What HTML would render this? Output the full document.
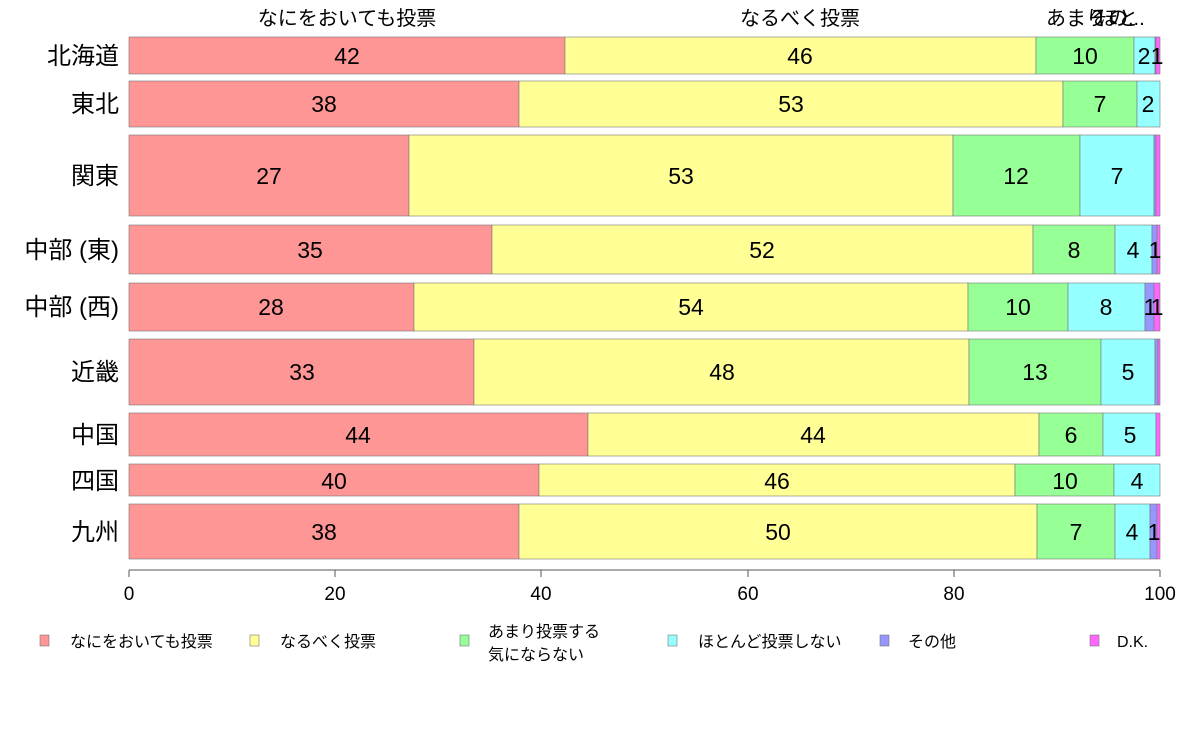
<!DOCTYPE html>
<html><head><meta charset="utf-8"><style>
html,body{margin:0;padding:0;background:#fff;}
svg{display:block;font-family:"Liberation Sans","Noto Sans CJK JP",sans-serif;}
.v{font-size:23px;text-anchor:middle;fill:#000;}
.r{font-size:24px;text-anchor:end;fill:#000;}
.t{font-size:20px;fill:#000;}
.l{font-size:16px;fill:#000;}
rect{stroke:#777;stroke-width:0.6;}
</style></head><body>
<svg width="1188" height="736" viewBox="0 0 1188 736">
<text class="t" x="347" y="25" text-anchor="middle">なにをおいても投票</text>
<text class="t" x="800" y="25" text-anchor="middle">なるべく投票</text>
<text class="t" x="1046" y="25">あまり</text>
<text class="t" x="1098" y="25">ほと</text>
<text class="t" x="1088" y="25">その...</text>

<g>
<rect x="129" y="37" width="436" height="37" fill="#ff9696"/>
<rect x="565" y="37" width="471" height="37" fill="#ffff96"/>
<rect x="1036" y="37" width="98" height="37" fill="#96ff96"/>
<rect x="1134" y="37" width="21" height="37" fill="#96ffff"/>
<rect x="1155" y="37" width="1" height="37" fill="#9696ff"/>
<rect x="1156" y="37" width="4" height="37" fill="#ff66ff"/>
<text class="v" x="347" y="64">42</text><text class="v" x="800" y="64">46</text><text class="v" x="1085" y="64">10</text><text class="v" x="1144" y="64">2</text><text class="v" x="1157" y="64">1</text>
<text class="r" x="119" y="64">北海道</text>
</g>
<g>
<rect x="129" y="81" width="390" height="46" fill="#ff9696"/>
<rect x="519" y="81" width="544" height="46" fill="#ffff96"/>
<rect x="1063" y="81" width="74" height="46" fill="#96ff96"/>
<rect x="1137" y="81" width="23" height="46" fill="#96ffff"/>
<text class="v" x="324" y="112">38</text><text class="v" x="791" y="112">53</text><text class="v" x="1100" y="112">7</text><text class="v" x="1148" y="112">2</text>
<text class="r" x="119" y="112">東北</text>
</g>
<g>
<rect x="129" y="135" width="280" height="81" fill="#ff9696"/>
<rect x="409" y="135" width="544" height="81" fill="#ffff96"/>
<rect x="953" y="135" width="127" height="81" fill="#96ff96"/>
<rect x="1080" y="135" width="74" height="81" fill="#96ffff"/>
<rect x="1154" y="135" width="2" height="81" fill="#9696ff"/>
<rect x="1156" y="135" width="4" height="81" fill="#ff66ff"/>
<text class="v" x="269" y="184">27</text><text class="v" x="681" y="184">53</text><text class="v" x="1016" y="184">12</text><text class="v" x="1117" y="184">7</text>
<text class="r" x="119" y="184">関東</text>
</g>
<g>
<rect x="129" y="225" width="363" height="49" fill="#ff9696"/>
<rect x="492" y="225" width="541" height="49" fill="#ffff96"/>
<rect x="1033" y="225" width="82" height="49" fill="#96ff96"/>
<rect x="1115" y="225" width="37" height="49" fill="#96ffff"/>
<rect x="1152" y="225" width="5" height="49" fill="#9696ff"/>
<rect x="1157" y="225" width="3" height="49" fill="#ff66ff"/>
<text class="v" x="310" y="258">35</text><text class="v" x="762" y="258">52</text><text class="v" x="1074" y="258">8</text><text class="v" x="1133" y="258">4</text><text class="v" x="1155" y="258">1</text>
<text class="r" x="119" y="258">中部 (東)</text>
</g>
<g>
<rect x="129" y="283" width="285" height="48" fill="#ff9696"/>
<rect x="414" y="283" width="554" height="48" fill="#ffff96"/>
<rect x="968" y="283" width="100" height="48" fill="#96ff96"/>
<rect x="1068" y="283" width="77" height="48" fill="#96ffff"/>
<rect x="1145" y="283" width="9" height="48" fill="#9696ff"/>
<rect x="1154" y="283" width="6" height="48" fill="#ff66ff"/>
<text class="v" x="271" y="315">28</text><text class="v" x="691" y="315">54</text><text class="v" x="1018" y="315">10</text><text class="v" x="1106" y="315">8</text><text class="v" x="1150" y="315">1</text><text class="v" x="1157" y="315">1</text>
<text class="r" x="119" y="315">中部 (西)</text>
</g>
<g>
<rect x="129" y="339" width="345" height="66" fill="#ff9696"/>
<rect x="474" y="339" width="495" height="66" fill="#ffff96"/>
<rect x="969" y="339" width="132" height="66" fill="#96ff96"/>
<rect x="1101" y="339" width="54" height="66" fill="#96ffff"/>
<rect x="1155" y="339" width="3" height="66" fill="#9696ff"/>
<rect x="1158" y="339" width="2" height="66" fill="#ff66ff"/>
<text class="v" x="302" y="380">33</text><text class="v" x="722" y="380">48</text><text class="v" x="1035" y="380">13</text><text class="v" x="1128" y="380">5</text>
<text class="r" x="119" y="380">近畿</text>
</g>
<g>
<rect x="129" y="413" width="459" height="43" fill="#ff9696"/>
<rect x="588" y="413" width="451" height="43" fill="#ffff96"/>
<rect x="1039" y="413" width="64" height="43" fill="#96ff96"/>
<rect x="1103" y="413" width="53" height="43" fill="#96ffff"/>
<rect x="1156" y="413" width="4" height="43" fill="#ff66ff"/>
<text class="v" x="358" y="443">44</text><text class="v" x="813" y="443">44</text><text class="v" x="1071" y="443">6</text><text class="v" x="1130" y="443">5</text>
<text class="r" x="119" y="443">中国</text>
</g>
<g>
<rect x="129" y="464" width="410" height="32" fill="#ff9696"/>
<rect x="539" y="464" width="476" height="32" fill="#ffff96"/>
<rect x="1015" y="464" width="99" height="32" fill="#96ff96"/>
<rect x="1114" y="464" width="46" height="32" fill="#96ffff"/>
<text class="v" x="334" y="489">40</text><text class="v" x="777" y="489">46</text><text class="v" x="1065" y="489">10</text><text class="v" x="1137" y="489">4</text>
<text class="r" x="119" y="489">四国</text>
</g>
<g>
<rect x="129" y="504" width="390" height="55" fill="#ff9696"/>
<rect x="519" y="504" width="518" height="55" fill="#ffff96"/>
<rect x="1037" y="504" width="78" height="55" fill="#96ff96"/>
<rect x="1115" y="504" width="35" height="55" fill="#96ffff"/>
<rect x="1150" y="504" width="7" height="55" fill="#9696ff"/>
<rect x="1157" y="504" width="3" height="55" fill="#ff66ff"/>
<text class="v" x="324" y="540">38</text><text class="v" x="778" y="540">50</text><text class="v" x="1076" y="540">7</text><text class="v" x="1132" y="540">4</text><text class="v" x="1154" y="540">1</text>
<text class="r" x="119" y="540">九州</text>
</g>

<g stroke="#555" stroke-width="1">
<line x1="129" y1="570" x2="1160" y2="570"/>
<line x1="129" y1="570" x2="129" y2="577"/>
<line x1="335" y1="570" x2="335" y2="577"/>
<line x1="541" y1="570" x2="541" y2="577"/>
<line x1="748" y1="570" x2="748" y2="577"/>
<line x1="954" y1="570" x2="954" y2="577"/>
<line x1="1160" y1="570" x2="1160" y2="577"/>
</g>
<g font-size="19" text-anchor="middle">
<text x="129" y="600">0</text><text x="335" y="600">20</text><text x="541" y="600">40</text><text x="748" y="600">60</text><text x="954" y="600">80</text><text x="1160" y="600">100</text>
</g>

<rect x="40" y="635" width="9" height="11" fill="#ff9696"/>
<text class="l" x="70" y="647">なにをおいても投票</text>
<rect x="250" y="635" width="9" height="11" fill="#ffff96"/>
<text class="l" x="280" y="647">なるべく投票</text>
<rect x="460" y="635" width="9" height="11" fill="#96ff96"/>
<text class="l" x="488" y="637">あまり投票する</text>
<text class="l" x="488" y="660">気にならない</text>
<rect x="668" y="635" width="9" height="11" fill="#96ffff"/>
<text class="l" x="698" y="647">ほとんど投票しない</text>
<rect x="880" y="635" width="9" height="11" fill="#9696ff"/>
<text class="l" x="908" y="647">その他</text>
<rect x="1090" y="635" width="9" height="11" fill="#ff66ff"/>
<text class="l" x="1117" y="647">D.K.</text>
</svg>
</body></html>
